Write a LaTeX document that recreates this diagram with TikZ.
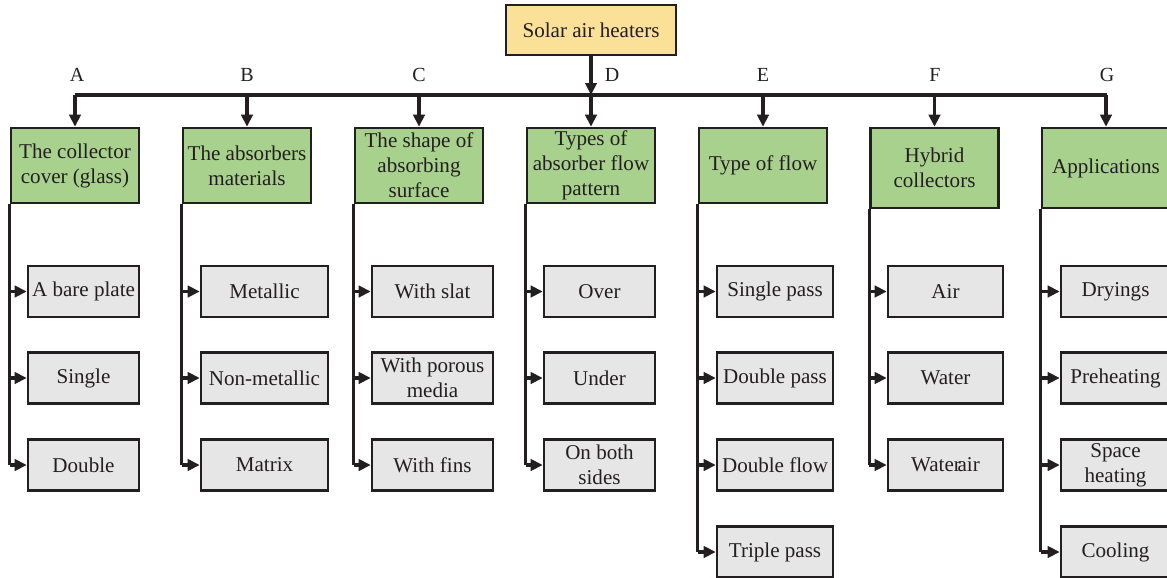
\documentclass[tikz,border=0pt]{standalone}
\usepackage{fontspec}
\setmainfont{Liberation Serif}
\usetikzlibrary{arrows.meta}
\definecolor{topfill}{RGB}{251,224,152}
\definecolor{catfill}{RGB}{169,209,142}
\definecolor{itemfill}{RGB}{230,230,230}
\definecolor{edge}{RGB}{35,31,32}
\begin{document}
\begin{tikzpicture}[x=0.75pt,y=-0.75pt,
  every node/.style={font=\fontsize{15.8}{18.75}\selectfont, text=edge},
  box/.style={draw=edge, line width=1.9pt, inner sep=0pt, align=center},
  topbox/.style={box, fill=topfill, minimum width=127.5pt, minimum height=37.5pt},
  catbox/.style={box, fill=catfill, minimum width=96pt},
  itembox/.style={box, fill=itemfill, minimum height=38pt},
  bus/.style={draw=edge, line width=2.3pt},
  arr/.style={draw=edge, line width=2.3pt, -{Triangle[length=9pt,width=8.5pt]}},
  lbl/.style={font=\fontsize{15}{18}\selectfont}
]
\useasboundingbox (0,0) rectangle (1167,578);

% top node
\node[topbox] (T) at (591,30) {Solar air heaters};

% category nodes
\node[catbox, minimum height=56.25pt] (A) at (75,165.5) {The collector\\cover (glass)};
\node[catbox, minimum height=56.25pt] (B) at (247,165.5) {The absorbers\\materials};
\node[catbox, minimum height=56.25pt] (C) at (419,165.5) {The shape of\\absorbing\\surface};
\node[catbox, minimum height=56.25pt] (D) at (591,165.5) {Types of\\absorber flow\\pattern};
\node[catbox, minimum height=56.25pt] (E) at (763,165.5) {Type of flow};
\node[catbox, minimum height=60pt] (F) at (934.5,168) {Hybrid\\collectors};
\node[catbox, minimum height=60pt] (G) at (1106,168) {Applications};

% bus
\coordinate (busL) at (75,95);
\coordinate (busR) at (1107,95);
\coordinate (busD) at (591,95);
\draw[bus] (busL) -- (busR);
\draw[arr] (T.south) -- (busD);
\foreach \n in {A,B,C,D,E,F,G}{
  \coordinate (b\n) at (\n.north |- busD);
  \draw[arr] (b\n) -- (\n.north);
}

% letters
\node[lbl] (lA) at (77,75) {A};
\node[lbl] (lB) at (247,75) {B};
\node[lbl] (lC) at (419,75) {C};
\node[lbl] (lD) at (612,75) {D};
\node[lbl] (lE) at (763,75) {E};
\node[lbl] (lF) at (935,75) {F};
\node[lbl] (lG) at (1107,75) {G};

% items column A
\node[itembox, minimum width=83.25pt] (A1) at (83.5,291.5) {A bare plate};
\node[itembox, minimum width=83.25pt] (A2) at (83.5,378) {Single};
\node[itembox, minimum width=83.25pt] (A3) at (83.5,465) {Double};
% column B
\node[itembox, minimum width=95.25pt] (B1) at (264.5,291.5) {Metallic};
\node[itembox, minimum width=95.25pt] (B2) at (264.5,378) {Non-metallic};
\node[itembox, minimum width=95.25pt] (B3) at (264.5,465) {Matrix};
% column C
\node[itembox, minimum width=90.75pt] (C1) at (432.5,291.5) {With slat};
\node[itembox, minimum width=90.75pt] (C2) at (432.5,378) {With porous\\media};
\node[itembox, minimum width=90.75pt] (C3) at (432.5,465) {With fins};
% column D
\node[itembox, minimum width=83.25pt] (D1) at (599.5,291.5) {Over};
\node[itembox, minimum width=83.25pt] (D2) at (599.5,378) {Under};
\node[itembox, minimum width=83.25pt] (D3) at (599.5,465) {On both\\sides};
% column E
\node[itembox, minimum width=87pt] (E1) at (775,291.5) {Single pass};
\node[itembox, minimum width=87pt] (E2) at (775,378) {Double pass};
\node[itembox, minimum width=87pt] (E3) at (775,465) {Double flow};
\node[itembox, minimum width=87pt] (E4) at (775,552) {Triple pass};
% column F
\node[itembox, minimum width=86.25pt] (F1) at (945.5,291.5) {Air};
\node[itembox, minimum width=86.25pt] (F2) at (945.5,378) {Water};
\node[itembox, minimum width=86.25pt] (F3) at (945.5,465) {Water\kern-2.5pt air};
% column G
\node[itembox, minimum width=81.75pt] (G1) at (1115.5,291.5) {Dryings};
\node[itembox, minimum width=81.75pt] (G2) at (1115.5,378) {Preheating};
\node[itembox, minimum width=81.75pt] (G3) at (1115.5,465) {Space\\heating};
\node[itembox, minimum width=81.75pt] (G4) at (1115.5,552) {Cooling};

% trunks and branches
\foreach \c/\last in {A/3,B/3,C/3,D/3,E/4,F/3,G/4}{
  \draw[bus] (\c.south west) -- (\c.south west |- \c\last.west);
  \foreach \i in {1,...,\last}{
    \draw[arr] (\c.south west |- \c\i.west) -- (\c\i.west);
  }
}
\end{tikzpicture}
\end{document}
